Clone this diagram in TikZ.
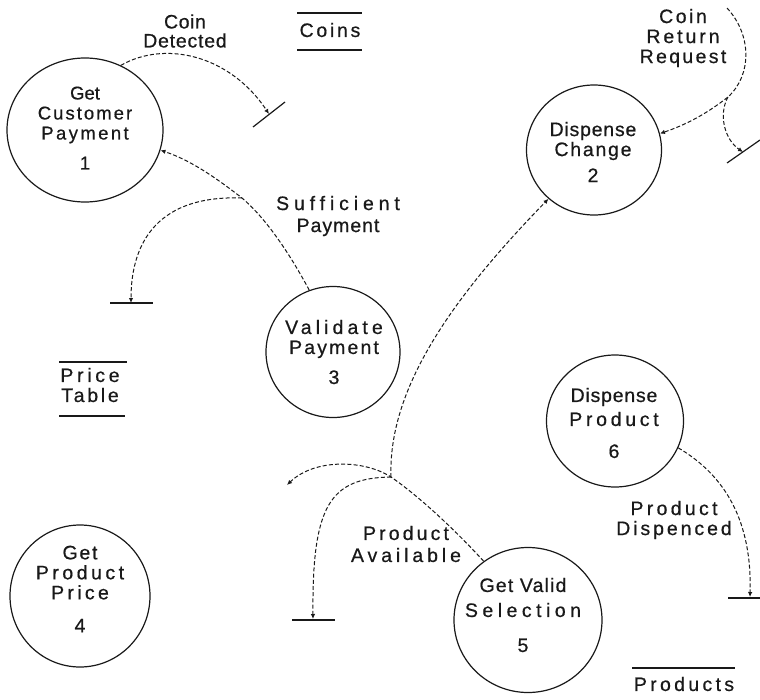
\documentclass[tikz,border=0pt]{standalone}
\usepackage{fontspec}
\setmainfont{Liberation Sans}
\newfontfamily\dfdfont[FakeBold=0.6]{Liberation Sans}
\usetikzlibrary{arrows.meta,shapes.geometric}
% tracked (letter-spaced) text
\newcommand\trk[2]{{\addfontfeature{LetterSpace=#1}#2}}

\begin{document}
\begin{tikzpicture}[x=1pt,y=-1pt,
  proc/.style={draw=black!90, ellipse, line width=1.2pt, inner sep=0pt},
  txt/.style={align=center, inner sep=0pt, text=black!90, font=\dfdfont\fontsize{19.5}{20}\selectfont},
  small/.style={font=\dfdfont\fontsize{18.5}{20}\selectfont},
  flow/.style={draw=black!90, line width=1pt, dash pattern=on 4pt off 2.2pt, -{Latex[length=5pt,width=4.5pt]}},
  bar/.style={draw=black!90, line width=1.2pt},
  store/.style={draw=black!90, line width=1.2pt}]
\useasboundingbox (0,0) rectangle (760,699);

% processes
\node[proc, minimum width=156pt, minimum height=144pt] (p1) at (85,130) {};
\node[proc, minimum width=135pt, minimum height=130pt] (p2) at (594,150) {};
\node[proc, minimum width=134pt, minimum height=131pt] (p3) at (333,352) {};
\node[proc, minimum width=140pt, minimum height=142pt] (p4) at (80,596) {};
\node[proc, minimum width=148pt, minimum height=145pt] (p5) at (528,620) {};
\node[proc, minimum width=137pt, minimum height=132pt] (p6) at (615,421) {};

\node[txt, small] (t1) at (85,128) {\trk{0}{Get}\\\trk{11}{Customer}\\\trk{13}{Payment}\\[10pt]1};
\node[txt] (t2) at (593,152) {\trk{4}{Dispense}\\[0pt]\trk{9}{Change}\\[6pt]2};
\node[txt] (t3) at (334,352) {\trk{21}{Validate}\\\trk{11}{Payment}\\[10pt]3};
\node[txt] (t4) at (80,589) {\trk{9}{Get}\\\trk{18}{Product}\\\trk{17}{Price}\\[13pt]4};
\node[txt] (t5) at (523,615) {\trk{6}{Get Valid}\\[5pt]\trk{23}{Selection}\\[15pt]5};
\node[txt] (t6) at (614,423) {\trk{4}{Dispense}\\[4pt]\trk{19}{Product}\\[12pt]6};

% data stores
\node[txt] (coins) at (330,30) {\trk{14}{Coins}};
\draw[store] (297,13) -- (362,13);
\draw[store] (297,50) -- (362,50);
\node[txt] (price) at (90,385) {\trk{19}{Price}\\\trk{14}{Table}};
\draw[store] (59,362) -- (127,362);
\draw[store] (59,416) -- (125,416);
\node[txt] (prods) at (684,684) {\trk{17}{Products}};
\draw[store] (632,668) -- (735,668);

% flow labels
\node[txt] (lcd) at (185,31) {\trk{3}{Coin}\\[-1pt]\trk{4}{Detected}};
\node[txt] (lcr) at (683,38) {\trk{13}{Coin}\\\trk{15}{Return}\\\trk{12}{Request}};
\node[txt] (lsp) at (338,216) {\trk{25}{Sufficient}\\[2pt]\trk{5}{Payment}};
\node[txt] (lpa) at (406,544) {\trk{16}{Product}\\[2pt]\trk{20}{Available}};
\node[txt] (lpd) at (674,520) {\trk{17}{Product}\\\trk{15}{Dispenced}};

% flow end points and junctions
\coordinate (s1) at (269,114);
\coordinate (s2) at (131,303);
\coordinate (s3) at (743,152);
\coordinate (s5) at (313,619);
\coordinate (s6) at (750,597);
\coordinate (pa) at (287,485);
\coordinate (crtop) at (727,8);
\coordinate (j1) at (242,198);
\coordinate (j2) at (728,97);
\coordinate (j3) at (391,477);

% Coin Detected
\draw[flow] (p1.61) .. controls (165,40) and (230,55) .. (s1);
\draw[bar] ([shift={(-16,13)}]s1) -- ([shift={(16,-12)}]s1);

% Sufficient Payment
\draw[flow] (p3.111) .. controls (285,245) and (262,215) .. (j1)
  .. controls (215,177) and (190,160) .. (p1.-15);
\draw[flow] (j1) .. controls (160,195) and (131,240) .. (s2);
\draw[bar] ([shift={(-21,0)}]s2) -- ([shift={(22,0)}]s2);

% Coin Return Request
\draw[flow] (crtop) .. controls (752,35) and (752,75) .. (j2)
  .. controls (705,115) and (685,125) .. (p2.14);
\draw[flow] (j2) .. controls (718,115) and (725,140) .. (s3);
\draw[bar] ([shift={(-16,11)}]s3) -- ([shift={(17,-12)}]s3);

% Product Available
\draw[flow] (p5.127) .. controls (455,530) and (420,497) .. (j3)
  .. controls (365,460) and (315,458) .. (pa);
\draw[flow] (j3) .. controls (388,390) and (450,300) .. (p2.227);
\draw[flow] (j3) .. controls (330,478) and (312,505) .. (s5);
\draw[bar] ([shift={(-21,1)}]s5) -- ([shift={(22,1)}]s5);

% Product Dispenced
\draw[flow] (p6.-23) .. controls (726,476) and (752,522) .. (s6);
\draw[bar] ([shift={(-22,1)}]s6) -- ([shift={(12,1)}]s6);
\end{tikzpicture}
\end{document}
